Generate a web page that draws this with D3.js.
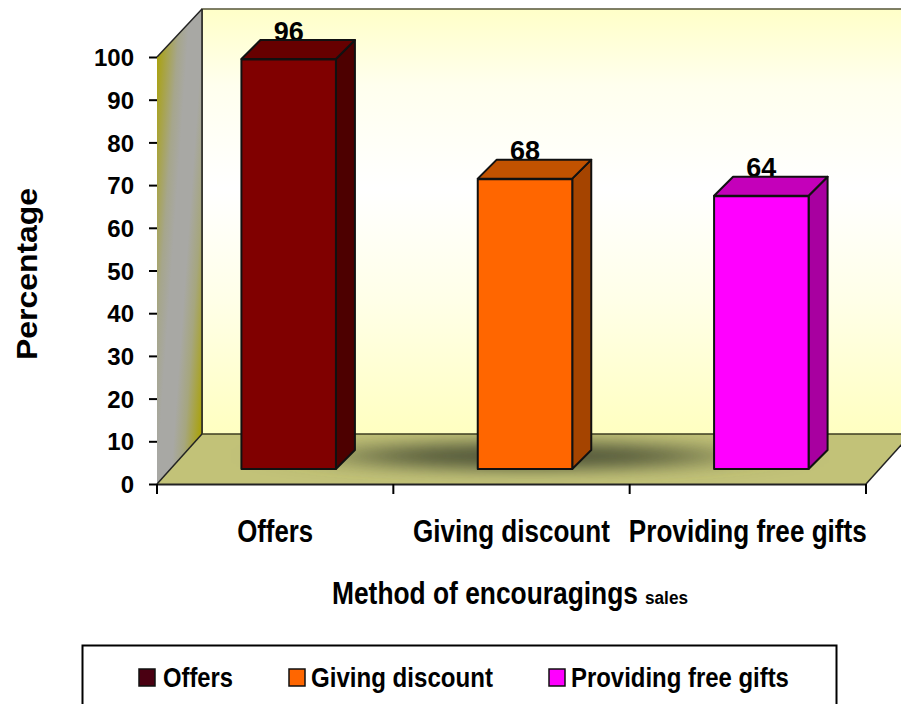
<!DOCTYPE html>
<html>
<head>
<meta charset="utf-8">
<script src="https://cdn.jsdelivr.net/npm/d3@7"></script>
<style>
  html, body { margin: 0; padding: 0; background: #fff; overflow: hidden; }
  text { font-family: "Liberation Sans", Arial, sans-serif; fill: #000; }
</style>
</head>
<body>
<div id="chart"></div>
<script>
const categories = ["Offers", "Giving discount", "Providing free gifts"];
const values = [96, 68, 64];
const yTicks = [0, 10, 20, 30, 40, 50, 60, 70, 80, 90, 100];

const frontColors = ["#800000", "#ff6600", "#ff00ff"];
const sideColors = ["#4d0000", "#a54400", "#a800a0"];
const topColors = ["#660000", "#c25200", "#c400ba"];
const legendColors = ["#4a0012", "#ff6600", "#ff00ff"];

const width = 901;
const height = 704;

// floor / wall depth of the fake 3d box, and the (smaller) depth of a bar
const wallDx = 45, wallDy = -50;
const barDx = 19, barDy = -19;
const barLift = 15, barWidth = 94.5, barShift = 13.5;

const svg = d3.select("#chart").append("svg")
  .attr("width", width)
  .attr("height", height)
  .style("display", "block");

const x = d3.scaleBand().domain(categories).range([157, 866]);
const y = d3.scaleLinear().domain([0, 100]).range([484, 57]);

const defs = svg.append("defs");

const wallGrad = defs.append("linearGradient")
  .attr("id", "backWall")
  .attr("x1", 0).attr("y1", 0).attr("x2", 0).attr("y2", 1);
wallGrad.selectAll("stop")
  .data([[0, "#ffffc8"], [0.18, "#ffffee"], [0.42, "#ffffff"], [0.68, "#ffffe8"], [1, "#ffffc0"]])
  .join("stop")
  .attr("offset", d => d[0])
  .attr("stop-color", d => d[1]);

const sideGrad = defs.append("linearGradient")
  .attr("id", "sideWall")
  .attr("gradientUnits", "userSpaceOnUse")
  .attr("x1", 157).attr("y1", 60).attr("x2", 227).attr("y2", 65);
sideGrad.selectAll("stop")
  .data([[0, "#aaa210"], [0.28, "#a6a68c"], [0.42, "#a8a8a4"], [0.62, "#a8a8a4"], [0.78, "#a6a67e"], [1, "#aaa20c"]])
  .join("stop")
  .attr("offset", d => d[0])
  .attr("stop-color", d => d[1]);

defs.append("filter")
  .attr("id", "shadowBlur")
  .attr("x", "-30%").attr("y", "-150%").attr("width", "160%").attr("height", "400%")
  .append("feGaussianBlur")
  .attr("stdDeviation", "50 8");

defs.append("clipPath").attr("id", "floorClip")
  .append("polygon")
  .attr("points", floorPoints());

function floorPoints() {
  const [x0, x1] = x.range();
  return [[x0, y(0)], [x1, y(0)], [x1 + wallDx, y(0) + wallDy], [x0 + wallDx, y(0) + wallDy]].join(" ");
}

// squeeze a text to the width it has in the picture, it is narrower than the font
function fitWidth(sel, widths) {
  sel.each(function (d, i) {
    const t = d3.select(this);
    const natural = this.getComputedTextLength();
    const tx = +t.attr("x"), ty = +t.attr("y");
    t.attr("transform", `translate(${tx},${ty}) scale(${widths[i] / natural},1)`)
      .attr("x", 0)
      .attr("y", 0);
  });
}

// Walls
const [xMin, xMax] = x.range();

svg.append("rect")
  .attr("x", xMin + wallDx)
  .attr("y", y(100) + wallDy + 2)
  .attr("width", xMax - xMin)
  .attr("height", y(0) - y(100))
  .attr("fill", "url(#backWall)")
  .attr("stroke", "#55553a")
  .attr("stroke-width", 1.5);

svg.append("polygon")
  .attr("points", [[xMin, y(100)], [xMin + wallDx, y(100) + wallDy + 2], [xMin + wallDx, y(0) + wallDy], [xMin, y(0)]].join(" "))
  .attr("fill", "url(#sideWall)");

svg.append("polygon")
  .attr("points", floorPoints())
  .attr("fill", "#c2c278");

svg.append("g")
  .attr("clip-path", "url(#floorClip)")
  .append("ellipse")
  .attr("cx", 530).attr("cy", 456)
  .attr("rx", 190).attr("ry", 14)
  .attr("fill", "#555a3a")
  .attr("filter", "url(#shadowBlur)");

// box edges
const edges = [
  [[xMin, y(100)], [xMin + wallDx, y(100) + wallDy + 2]],
  [[xMin, y(0)], [xMin + wallDx, y(0) + wallDy]],
  [[xMax, y(0)], [xMax + wallDx, y(0) + wallDy]],
  [[xMin + wallDx, y(100) + wallDy + 2], [xMin + wallDx, y(0) + wallDy]]
];
svg.append("g")
  .selectAll("line")
  .data(edges)
  .join("line")
  .attr("x1", d => d[0][0]).attr("y1", d => d[0][1])
  .attr("x2", d => d[1][0]).attr("y2", d => d[1][1])
  .attr("stroke", "#222")
  .attr("stroke-width", 1.5);

svg.append("line")
  .attr("x1", xMin + wallDx).attr("x2", width)
  .attr("y1", y(0) + wallDy).attr("y2", y(0) + wallDy)
  .attr("stroke", "#3d3d20")
  .attr("stroke-width", 1.5);

// Value labels go under the bars, the top face slightly covers them
svg.append("g")
  .selectAll("text")
  .data(categories)
  .join("text")
  .attr("x", d => x(d) + x.bandwidth() / 2 + barShift)
  .attr("y", (d, i) => y(values[i]) - barLift + barDy + 0.5)
  .attr("text-anchor", "middle")
  .attr("font-size", 27)
  .attr("font-weight", "bold")
  .text((d, i) => values[i]);

// Bars
const bar = svg.append("g")
  .selectAll("g")
  .data(categories)
  .join("g")
  .attr("stroke", "#111")
  .attr("stroke-width", 2)
  .attr("stroke-linejoin", "round");

const left = d => x(d) + x.bandwidth() / 2 + barShift - barWidth / 2;
const base = y(0) - barLift;
const top_ = i => y(values[i]) - barLift;

bar.append("polygon")
  .attr("fill", (d, i) => sideColors[i])
  .attr("points", (d, i) => {
    const r = left(d) + barWidth;
    return [[r, base], [r + barDx, base + barDy], [r + barDx, top_(i) + barDy], [r, top_(i)]].join(" ");
  });

bar.append("polygon")
  .attr("fill", (d, i) => topColors[i])
  .attr("points", (d, i) => {
    const l = left(d), r = l + barWidth, t = top_(i);
    return [[l, t], [r, t], [r + barDx, t + barDy], [l + barDx, t + barDy]].join(" ");
  });

bar.append("rect")
  .attr("x", d => left(d))
  .attr("y", (d, i) => top_(i) + 0.5)
  .attr("width", barWidth)
  .attr("height", (d, i) => base - top_(i) - 0.5)
  .attr("fill", (d, i) => frontColors[i]);

// Axes
const yAxis = svg.append("g")
  .attr("transform", `translate(${xMin},0)`)
  .call(d3.axisLeft(y).tickValues(yTicks).tickSize(8).tickPadding(15));

const xAxis = svg.append("g")
  .attr("transform", `translate(0,${y(0)})`)
  .call(d3.axisBottom(x).tickValues([]).tickSize(0));

yAxis.select(".domain").attr("stroke", "none");
yAxis.selectAll("line").attr("stroke", "#000").attr("stroke-width", 2);
yAxis.selectAll("text")
  .attr("font-family", null)
  .attr("font-size", 24)
  .attr("font-weight", "bold")
  .attr("dy", "0.36em");

xAxis.select(".domain").attr("stroke", "#222").attr("stroke-width", 2);

// x ticks sit on the band edges
xAxis.selectAll("line.edge")
  .data(d3.range(categories.length + 1))
  .join("line")
  .attr("class", "edge")
  .attr("x1", i => xMin + i * x.step())
  .attr("x2", i => xMin + i * x.step())
  .attr("y1", 0)
  .attr("y2", 10)
  .attr("stroke", "#000")
  .attr("stroke-width", 2);

const catWidths = [76, 197, 238];
svg.append("g")
  .selectAll("text")
  .data(categories)
  .join("text")
  .attr("x", d => x(d) + x.bandwidth() / 2 - catWidths[categories.indexOf(d)] / 2)
  .attr("y", 542)
  .attr("font-size", 31)
  .attr("font-weight", "bold")
  .text(d => d)
  .call(fitWidth, catWidths);

svg.append("text")
  .attr("x", 332)
  .attr("y", 604)
  .attr("font-size", 31)
  .attr("font-weight", "bold")
  .text("Method of encouragings")
  .call(fitWidth, [306]);

svg.append("text")
  .attr("x", 645)
  .attr("y", 604)
  .attr("font-size", 19)
  .attr("font-weight", "bold")
  .text("sales")
  .call(fitWidth, [43]);

svg.append("text")
  .attr("transform", "translate(37,360) rotate(-90)")
  .attr("font-size", 30)
  .attr("font-weight", "bold")
  .attr("textLength", 172)
  .attr("lengthAdjust", "spacingAndGlyphs")
  .text("Percentage");

// Legend
svg.append("rect")
  .attr("x", 82.5).attr("y", 645.5)
  .attr("width", 754).attr("height", 80)
  .attr("fill", "#fff")
  .attr("stroke", "#000")
  .attr("stroke-width", 2);

const legendSwatchX = [139, 289, 549];
const legendTextX = [163, 311, 571];
const legendTextW = [70, 182, 218];

const legend = svg.append("g")
  .selectAll("g")
  .data(categories)
  .join("g");

legend.append("rect")
  .attr("x", (d, i) => legendSwatchX[i])
  .attr("y", 669)
  .attr("width", 16)
  .attr("height", 17)
  .attr("fill", (d, i) => legendColors[i])
  .attr("stroke", "#111")
  .attr("stroke-width", 1.5);

legend.append("text")
  .attr("x", (d, i) => legendTextX[i])
  .attr("y", 687)
  .attr("font-size", 28)
  .attr("font-weight", "bold")
  .text(d => d)
  .call(fitWidth, legendTextW);
</script>
</body>
</html>
